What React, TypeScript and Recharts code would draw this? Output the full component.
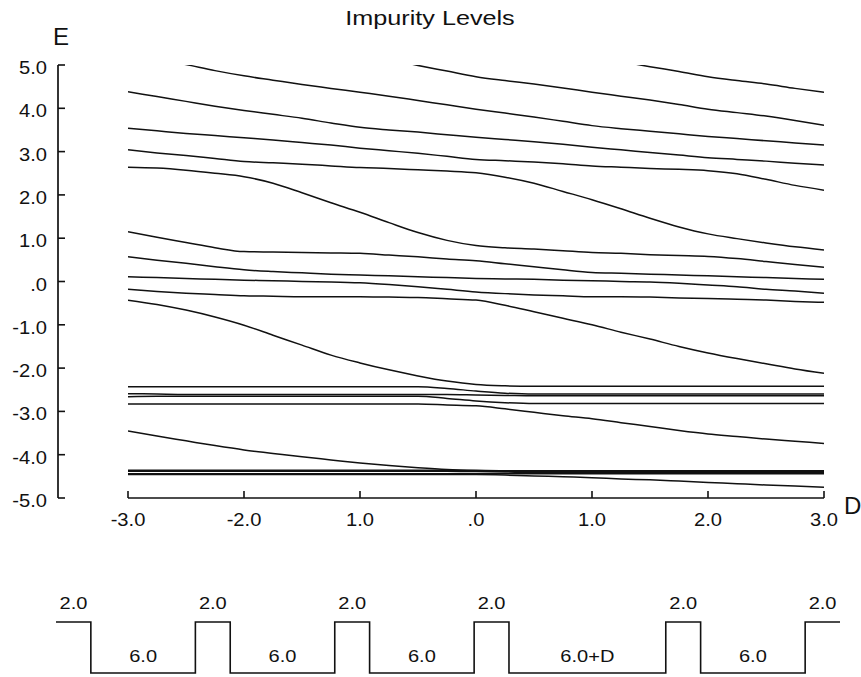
// @ts-nocheck
import React from 'react';
import { LineChart, Line, XAxis, YAxis, ReferenceLine, LabelList } from 'recharts';

const FONT = '"Liberation Sans", Arial, Helvetica, sans-serif';
const INK = '#111';
const STRETCH = 1.12; // the scanned lettering is a little wider than Helvetica

// impurity well offset D, read every 0.25
const D_GRID = [-3, -2.75, -2.5, -2.25, -2, -1.75, -1.5, -1.25, -1, -0.75, -0.5, -0.25, 0, 0.25, 0.5, 0.75, 1, 1.25, 1.5, 1.75, 2, 2.25, 2.5, 2.75, 3];

// lowest band (four levels) and the ground impurity level
const level01 = [-4.46, -4.46, -4.46, -4.46, -4.46, -4.46, -4.46, -4.46, -4.46, -4.46, -4.46, -4.46, -4.46, -4.47, -4.49, -4.51, -4.53, -4.56, -4.58, -4.61, -4.64, -4.67, -4.7, -4.72, -4.75];
const level02 = [-4.44, -4.44, -4.44, -4.44, -4.44, -4.44, -4.44, -4.44, -4.44, -4.44, -4.44, -4.44, -4.44, -4.44, -4.44, -4.44, -4.44, -4.44, -4.44, -4.44, -4.44, -4.44, -4.44, -4.44, -4.44];
const level03 = [-4.38, -4.38, -4.38, -4.38, -4.38, -4.38, -4.38, -4.38, -4.38, -4.38, -4.38, -4.38, -4.39, -4.4, -4.41, -4.41, -4.41, -4.41, -4.41, -4.41, -4.41, -4.41, -4.41, -4.41, -4.41];
const level04 = [-4.36, -4.36, -4.36, -4.36, -4.36, -4.36, -4.36, -4.36, -4.36, -4.36, -4.36, -4.36, -4.37, -4.38, -4.39, -4.39, -4.39, -4.39, -4.39, -4.39, -4.39, -4.39, -4.39, -4.39, -4.39];
const level05 = [-3.45, -3.57, -3.68, -3.79, -3.89, -3.97, -4.05, -4.12, -4.19, -4.25, -4.3, -4.34, -4.36, -4.37, -4.37, -4.37, -4.37, -4.37, -4.37, -4.37, -4.37, -4.37, -4.37, -4.37, -4.37];

// second band
const level06 = [-2.83, -2.83, -2.83, -2.83, -2.83, -2.83, -2.83, -2.83, -2.83, -2.83, -2.83, -2.85, -2.87, -2.94, -3.02, -3.1, -3.17, -3.26, -3.35, -3.44, -3.52, -3.58, -3.64, -3.69, -3.74];
const level07 = [-2.66, -2.65, -2.65, -2.65, -2.65, -2.65, -2.65, -2.65, -2.65, -2.65, -2.65, -2.7, -2.76, -2.8, -2.82, -2.82, -2.82, -2.82, -2.82, -2.82, -2.82, -2.82, -2.82, -2.82, -2.82];
const level08 = [-2.59, -2.6, -2.61, -2.61, -2.61, -2.61, -2.61, -2.61, -2.61, -2.61, -2.61, -2.61, -2.62, -2.63, -2.64, -2.64, -2.64, -2.64, -2.64, -2.64, -2.64, -2.64, -2.64, -2.64, -2.64];
const level09 = [-2.43, -2.43, -2.43, -2.43, -2.43, -2.43, -2.43, -2.43, -2.43, -2.43, -2.43, -2.47, -2.53, -2.58, -2.6, -2.6, -2.6, -2.6, -2.6, -2.6, -2.6, -2.6, -2.6, -2.6, -2.6];
const level10 = [-0.43, -0.53, -0.66, -0.82, -1.01, -1.24, -1.47, -1.7, -1.88, -2.04, -2.18, -2.3, -2.38, -2.41, -2.42, -2.42, -2.42, -2.42, -2.42, -2.42, -2.42, -2.42, -2.42, -2.42, -2.42];

// third band
const level11 = [-0.18, -0.23, -0.27, -0.3, -0.33, -0.34, -0.35, -0.35, -0.35, -0.36, -0.37, -0.4, -0.43, -0.55, -0.7, -0.85, -1.0, -1.17, -1.33, -1.5, -1.65, -1.78, -1.9, -2.02, -2.12];
const level12 = [0.11, 0.09, 0.07, 0.05, 0.03, 0.02, 0.0, -0.01, -0.03, -0.07, -0.12, -0.18, -0.24, -0.28, -0.31, -0.33, -0.35, -0.35, -0.36, -0.38, -0.39, -0.41, -0.43, -0.46, -0.48];
const level13 = [0.57, 0.49, 0.42, 0.34, 0.27, 0.23, 0.2, 0.17, 0.15, 0.13, 0.11, 0.09, 0.07, 0.06, 0.05, 0.03, 0.02, 0.0, -0.01, -0.04, -0.08, -0.12, -0.18, -0.22, -0.27];
const level14 = [1.15, 1.02, 0.9, 0.78, 0.69, 0.68, 0.67, 0.66, 0.65, 0.61, 0.57, 0.52, 0.48, 0.41, 0.34, 0.27, 0.21, 0.19, 0.17, 0.15, 0.13, 0.11, 0.09, 0.07, 0.05];
const level15 = [2.64, 2.62, 2.57, 2.5, 2.42, 2.27, 2.05, 1.82, 1.6, 1.36, 1.13, 0.95, 0.83, 0.78, 0.75, 0.71, 0.67, 0.65, 0.62, 0.6, 0.58, 0.53, 0.46, 0.39, 0.33];

// upper levels; the top ones come in from above 5.0 and are clipped
const level16 = [3.04, 2.97, 2.91, 2.84, 2.77, 2.74, 2.71, 2.67, 2.63, 2.61, 2.58, 2.55, 2.51, 2.41, 2.27, 2.08, 1.89, 1.68, 1.46, 1.26, 1.1, 0.99, 0.89, 0.8, 0.73];
const level17 = [3.54, 3.48, 3.42, 3.37, 3.32, 3.27, 3.21, 3.15, 3.08, 3.02, 2.96, 2.89, 2.82, 2.79, 2.76, 2.72, 2.67, 2.64, 2.61, 2.59, 2.56, 2.49, 2.36, 2.22, 2.11];
const level18 = [4.38, 4.27, 4.16, 4.05, 3.95, 3.86, 3.77, 3.66, 3.56, 3.5, 3.45, 3.39, 3.33, 3.28, 3.23, 3.17, 3.1, 3.04, 2.98, 2.92, 2.86, 2.82, 2.78, 2.73, 2.69];
const level19 = [null, 5.14, 5.01, 4.87, 4.75, 4.65, 4.55, 4.46, 4.37, 4.28, 4.18, 4.08, 3.98, 3.89, 3.8, 3.7, 3.6, 3.53, 3.47, 3.41, 3.35, 3.3, 3.25, 3.2, 3.15];
const level20 = [null, null, null, null, null, null, null, null, null, 5.13, 4.99, 4.86, 4.73, 4.64, 4.56, 4.47, 4.37, 4.28, 4.19, 4.09, 3.98, 3.9, 3.82, 3.72, 3.61];
const level21 = [null, null, null, null, null, null, null, null, null, null, null, null, null, null, null, null, null, 5.08, 4.96, 4.85, 4.73, 4.64, 4.56, 4.46, 4.37];

const LEVELS = [
  level01, level02, level03, level04, level05, level06, level07, level08, level09, level10, level11,
  level12, level13, level14, level15, level16, level17, level18, level19, level20, level21,
];

const X_TICKS = [-3, -2, -1, 0, 1, 2, 3];
const X_TICK_LABELS = ['-3.0', '-2.0', '1.0', '.0', '1.0', '2.0', '3.0'];
const Y_TICKS = [5, 4, 3, 2, 1, 0, -1, -2, -3, -4, -5];
const Y_TICK_LABELS = ['5.0', '4.0', '3.0', '2.0', '1.0', '.0', '-1.0', '-2.0', '-3.0', '-4.0', '-5.0'];

// superlattice drawn under the plot: barrier / well widths
const SEGMENT_WIDTHS = [2, 6, 2, 6, 2, 6, 2, 9, 2, 6, 2];
const SEGMENT_LEVELS = [1, 0, 1, 0, 1, 0, 1, 0, 1, 0, 1];
const SEGMENT_LABELS = ['2.0', '6.0', '2.0', '6.0', '2.0', '6.0', '2.0', '6.0+D', '2.0', '6.0', '2.0'];

const levelRows = D_GRID.map((d, i) => {
  const row = { d };
  LEVELS.forEach((lv, k) => {
    row[`l${k}`] = lv[i];
  });
  return row;
});

const profileSteps = [];
const profileLabels = [];
let cursor = 0;
SEGMENT_WIDTHS.forEach((w, i) => {
  profileSteps.push({ u: cursor, v: SEGMENT_LEVELS[i] });
  profileLabels.push({ u: cursor + w / 2, v: SEGMENT_LEVELS[i], label: SEGMENT_LABELS[i] });
  cursor += w;
});
profileSteps.push({ u: cursor, v: SEGMENT_LEVELS[SEGMENT_LEVELS.length - 1] });
const PROFILE_SPAN = cursor;

function Stretched({ x, y, anchor = 'middle', size = 18, stretch = STRETCH, children }) {
  return (
    <text
      transform={`translate(${x},${y}) scale(${stretch},1)`}
      textAnchor={anchor}
      fontSize={size}
      fontFamily={FONT}
      fill={INK}
    >
      {children}
    </text>
  );
}

function XTick({ x, y, payload }) {
  const label = X_TICK_LABELS[X_TICKS.indexOf(payload.value)];
  return (
    <g>
      <line x1={x} y1={y} x2={x} y2={y - 7} stroke={INK} strokeWidth={1.6} />
      <Stretched x={x} y={y + 28}>{label}</Stretched>
    </g>
  );
}

function YTick({ x, y, payload }) {
  const label = Y_TICK_LABELS[Y_TICKS.indexOf(payload.value)];
  return (
    <g>
      <line x1={x} y1={y} x2={x + 7} y2={y} stroke={INK} strokeWidth={1.6} />
      <Stretched x={x - 11} y={y + 9} anchor="end">{label}</Stretched>
    </g>
  );
}

function SegmentLabel({ x, y, value, index }) {
  const lift = profileLabels[index]?.v === 1 ? 13 : 11;
  return <Stretched x={x} y={y - lift} size={17} stretch={1.18}>{value}</Stretched>;
}

export default function App() {
  return (
    <div style={{ position: 'absolute', left: 0, top: 0, width: 861, height: 677, background: '#fff' }}>
      <svg width={861} height={677} style={{ position: 'absolute', left: 0, top: 0 }}>
        <Stretched x={430} y={25} size={21} stretch={1.2}>Impurity Levels</Stretched>
        <text x={53} y={45} fontSize={24} fontFamily={FONT} fill={INK}>E</text>
        <text x={844} y={514} fontSize={24} fontFamily={FONT} fill={INK}>D</text>
      </svg>

      <div style={{ position: 'absolute', left: 0, top: 0 }}>
        <LineChart width={861} height={540} data={levelRows} margin={{ top: 65, right: 37, bottom: 0, left: 8 }}>
          <XAxis
            type="number"
            dataKey="d"
            domain={[-3, 3]}
            ticks={X_TICKS}
            interval={0}
            padding={{ left: 70, right: 0 }}
            axisLine={false}
            tickLine={false}
            tickSize={0}
            tickMargin={0}
            height={42}
            allowDataOverflow
            tick={(p) => <XTick {...p} />}
          />
          <YAxis
            type="number"
            domain={[-5, 5]}
            ticks={Y_TICKS}
            interval={0}
            width={50}
            axisLine={{ stroke: INK, strokeWidth: 1.7 }}
            tickLine={false}
            tickSize={0}
            tickMargin={0}
            allowDataOverflow
            tick={(p) => <YTick {...p} />}
          />
          <ReferenceLine
            segment={[{ x: -3, y: -5 }, { x: 3, y: -5 }]}
            stroke={INK}
            strokeWidth={1.7}
            ifOverflow="visible"
          />
          {LEVELS.map((_, k) => (
            <Line
              key={k}
              dataKey={`l${k}`}
              type="monotone"
              stroke={INK}
              strokeWidth={1.5}
              dot={false}
              activeDot={false}
              isAnimationActive={false}
            />
          ))}
        </LineChart>
      </div>

      <div style={{ position: 'absolute', left: 0, top: 540 }}>
        <LineChart width={861} height={137} margin={{ top: 82, right: 21, bottom: 4, left: 56 }}>
          <XAxis type="number" dataKey="u" domain={[0, PROFILE_SPAN]} hide />
          <YAxis type="number" domain={[0, 1]} hide />
          <Line
            data={profileSteps}
            dataKey="v"
            type="stepAfter"
            stroke={INK}
            strokeWidth={1.6}
            dot={false}
            activeDot={false}
            isAnimationActive={false}
          />
          <Line
            data={profileLabels}
            dataKey="v"
            stroke="none"
            dot={false}
            activeDot={false}
            isAnimationActive={false}
          >
            <LabelList dataKey="label" content={(p) => <SegmentLabel {...p} />} />
          </Line>
        </LineChart>
      </div>
    </div>
  );
}
